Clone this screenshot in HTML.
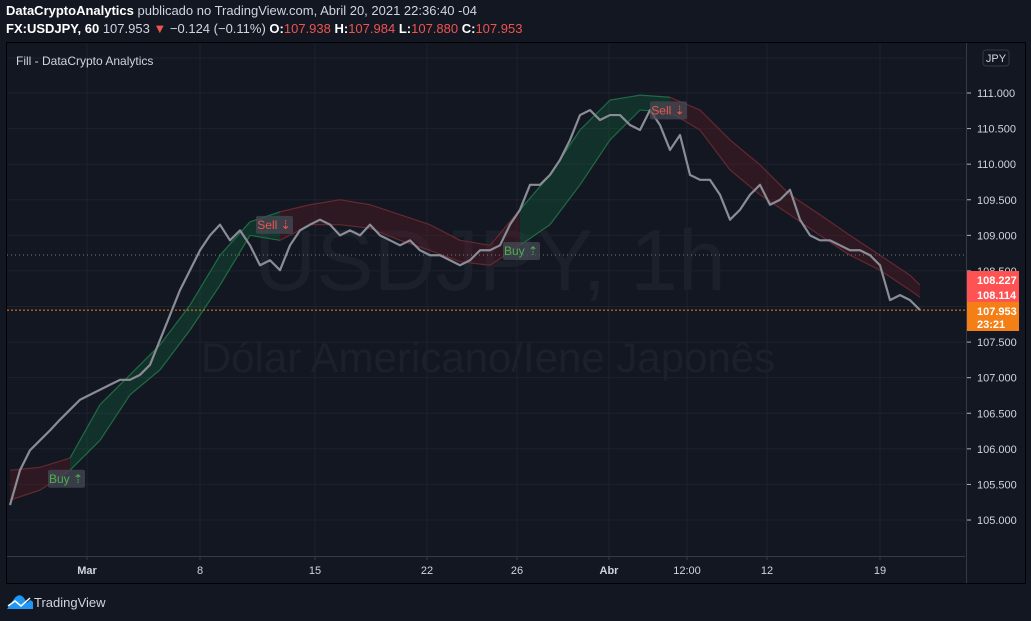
<!DOCTYPE html>
<html><head><meta charset="utf-8">
<style>
body{margin:0;background:#131722;width:1031px;height:621px;overflow:hidden;font-family:"Liberation Sans",sans-serif;}
.hdr{position:absolute;left:6px;color:#d1d4dc;font-size:13px;white-space:nowrap;}
.hdr b{color:#fff}
.r{color:#ef5350}
</style></head><body>
<div class="hdr" style="top:3px"><b>DataCryptoAnalytics</b> publicado no TradingView.com, Abril 20, 2021 22:36:40 -04</div>
<div class="hdr" style="top:21px"><b>FX:USDJPY, 60</b> 107.953 <span class="r">▼</span> −0.124 (−0.11%) <b>O:</b><span class="r">107.938</span> <b>H:</b><span class="r">107.984</span> <b>L:</b><span class="r">107.880</span> <b>C:</b><span class="r">107.953</span></div>
<svg id="c" width="1031" height="621" style="position:absolute;left:0;top:0" font-family="Liberation Sans, sans-serif"></svg>
<script>
const priceVals=[105.21,105.70,105.98,106.12,106.26,106.41,106.55,106.69,106.76,106.83,106.90,106.97,106.97,107.04,107.18,107.53,107.88,108.23,108.51,108.79,109.00,109.15,108.93,109.07,108.86,108.58,108.65,108.51,108.86,109.07,109.15,109.22,109.15,109.00,109.07,109.00,109.15,109.00,108.93,108.86,108.93,108.79,108.72,108.72,108.65,108.58,108.65,108.79,108.79,108.86,109.15,109.36,109.71,109.71,109.85,110.06,110.34,110.69,110.76,110.62,110.69,110.69,110.55,110.48,110.76,110.55,110.20,110.41,109.85,109.78,109.78,109.57,109.22,109.36,109.57,109.71,109.43,109.50,109.64,109.22,109.00,108.93,108.93,108.86,108.79,108.79,108.72,108.58,108.09,108.16,108.09,107.95];
const bandUpper=[105.70,105.74,105.87,106.62,107.04,107.46,108.02,108.72,109.19,109.33,109.43,109.50,109.43,109.29,109.15,108.93,108.86,109.36,109.85,110.48,110.90,110.97,110.94,110.76,110.34,109.99,109.57,109.29,109.00,108.72,108.44,108.30];
const bandLower=[105.28,105.42,105.70,106.12,106.76,107.11,107.67,108.30,109.00,108.93,109.15,109.15,109.10,108.93,108.79,108.63,108.58,108.86,109.15,109.71,110.34,110.76,110.73,110.48,109.92,109.57,109.29,109.00,108.72,108.51,108.23,108.13];
const bandTrend=[-1,-1,1,1,1,1,1,1,1,-1,-1,-1,-1,-1,-1,-1,-1,1,1,1,1,1,-1,-1,-1,-1,-1,-1,-1,-1,-1,-1];
const yTicks=[105,105.5,106,106.5,107,107.5,108,108.5,109,109.5,110,110.5,111];
const xTickLabels=["Mar","8","15","22","26","Abr","12:00","12","19"];
const xTickIdx=[7.7,19,30.5,41.7,50.7,59.9,67.7,75.7,87];
const signalType=["Buy","Sell","Buy","Sell"];
const signalIdx=[5.6,26.4,51.1,65.8];
const signalPrice=[105.79,109.02,108.99,110.63];

const NS="http://www.w3.org/2000/svg";
const svg=document.getElementById('c');
const y=p=>93+(111-p)*71.17;
const x=i=>10+i*10;
const bx=j=>j<31?10+j*30:920;
function mk(t,a,parent){const e=document.createElementNS(NS,t);for(const k in a)e.setAttribute(k,a[k]);(parent||svg).appendChild(e);return e;}
mk('rect',{x:6.5,y:42.5,width:1019,height:541,fill:'#131722',stroke:'#000'});
yTicks.forEach(v=>{const g=mk('line',{x1:7,x2:965,y1:y(v),y2:y(v),stroke:'#1e222d'});});
mk('line',{x1:7,x2:965,y1:58,y2:58,stroke:'#1e222d'});
xTickIdx.forEach(i=>{mk('line',{x1:x(i),x2:x(i),y1:43,y2:556,stroke:'#1e222d'});});
let w=mk('text',{x:490,y:290,'text-anchor':'middle','font-size':86,fill:'#1c202b'});w.textContent='USDJPY, 1h';

w=mk('text',{x:488,y:372,'text-anchor':'middle','font-size':42,fill:'#1c202b'});w.textContent='Dólar Americano/Iene Japonês';

for(let j=0;j<bandUpper.length-1;j++){
  const red=bandTrend[j]<0;
  const pts=`${bx(j)},${y(bandUpper[j])} ${bx(j+1)},${y(bandUpper[j+1])} ${bx(j+1)},${y(bandLower[j+1])} ${bx(j)},${y(bandLower[j])}`;
  const p=mk('polygon',{points:pts,fill:red?'rgba(110,28,38,0.3)':'rgba(20,105,60,0.32)',stroke:'none'});
  
  const c=red?'#642830':'#1f6b45';
  mk('line',{x1:bx(j),y1:y(bandUpper[j]),x2:bx(j+1),y2:y(bandUpper[j+1]),stroke:c,'stroke-width':1.2});
  mk('line',{x1:bx(j),y1:y(bandLower[j]),x2:bx(j+1),y2:y(bandLower[j+1]),stroke:c,'stroke-width':1.2});
}
mk('line',{x1:7,x2:965,y1:255,y2:255,stroke:'#787b86','stroke-dasharray':'1 3'});
let pl=mk('line',{x1:7,x2:965,y1:y(priceVals[priceVals.length-1]),y2:y(priceVals[priceVals.length-1]),stroke:'#f57f17','stroke-dasharray':'2 2'});

const line=mk('polyline',{points:priceVals.map((v,i)=>x(i)+','+y(v)).join(' '),fill:'none',stroke:'#8a8d96','stroke-width':2.2,'stroke-linejoin':'round'});

signalType.forEach((t,k)=>{
  const cx=x(signalIdx[k]),cy=y(signalPrice[k]);const buy=t==='Buy';
  const g=mk('g',{});
  const by=buy?cy+6:cy-18;
  mk('rect',{x:cx-18,y:by,width:37,height:18,rx:2,fill:'rgba(70,74,84,0.75)'},g);
  const tx=mk('text',{x:cx,y:by+13,'text-anchor':'middle','font-size':12,fill:buy?'#4caf50':'#ef5350'},g);tx.textContent=t+(buy?' ⇡':' ⇣');
});
mk('line',{x1:7,x2:965,y1:556.5,y2:556.5,stroke:'#363a45'});
mk('line',{x1:966.5,x2:966.5,y1:43,y2:583,stroke:'#363a45'});
yTicks.forEach(v=>{mk('line',{x1:967,x2:971,y1:y(v),y2:y(v),stroke:'#b2b5be'});
 const t=mk('text',{x:977,y:y(v)+4,'font-size':11,fill:'#d1d4dc'});t.textContent=v.toFixed(3);
 });
xTickLabels.forEach((s,k)=>{mk('line',{x1:x(xTickIdx[k]),x2:x(xTickIdx[k]),y1:556,y2:560,stroke:'#363a45'});
 const t=mk('text',{x:x(xTickIdx[k]),y:574,'text-anchor':'middle','font-size':11,fill:'#d1d4dc','font-weight':(s==='Mar'||s==='Abr')?'bold':'normal'});t.textContent=s;
 });
mk('rect',{x:967,y:271,width:52,height:31,fill:'#ff5252'});
mk('rect',{x:967,y:302,width:52,height:29,fill:'#f57f17'});
[['108.227',284,'#fff'],['108.114',299,'#fff'],['107.953',315,'#fff'],['23:21',328,'#fff']].forEach(a=>{const t=mk('text',{x:977,y:a[1],'font-size':11,'font-weight':'bold',fill:a[2]});t.textContent=a[0];});
mk('rect',{x:983,y:50,width:26,height:16,rx:3,fill:'#131722',stroke:'#363a45'});
let jp=mk('text',{x:996,y:62,'text-anchor':'middle','font-size':11,fill:'#d1d4dc'});jp.textContent='JPY';

let ind=mk('text',{x:16,y:65,'font-size':12,fill:'#d1d4dc'});ind.textContent='Fill - DataCrypto Analytics';

mk('path',{d:'M7 609 L14 599 Q19 592 24 598 L27 603 Q30 598 33 602 L33 609 Z',fill:'#2196f3'});
mk('polyline',{points:'8,606 15,601 21,606 30,598',fill:'none',stroke:'#fff','stroke-width':1.5});
let lg=mk('text',{x:34,y:607,'font-size':13,fill:'#d1d4dc'});lg.textContent='TradingView';

</script>
</body></html>
